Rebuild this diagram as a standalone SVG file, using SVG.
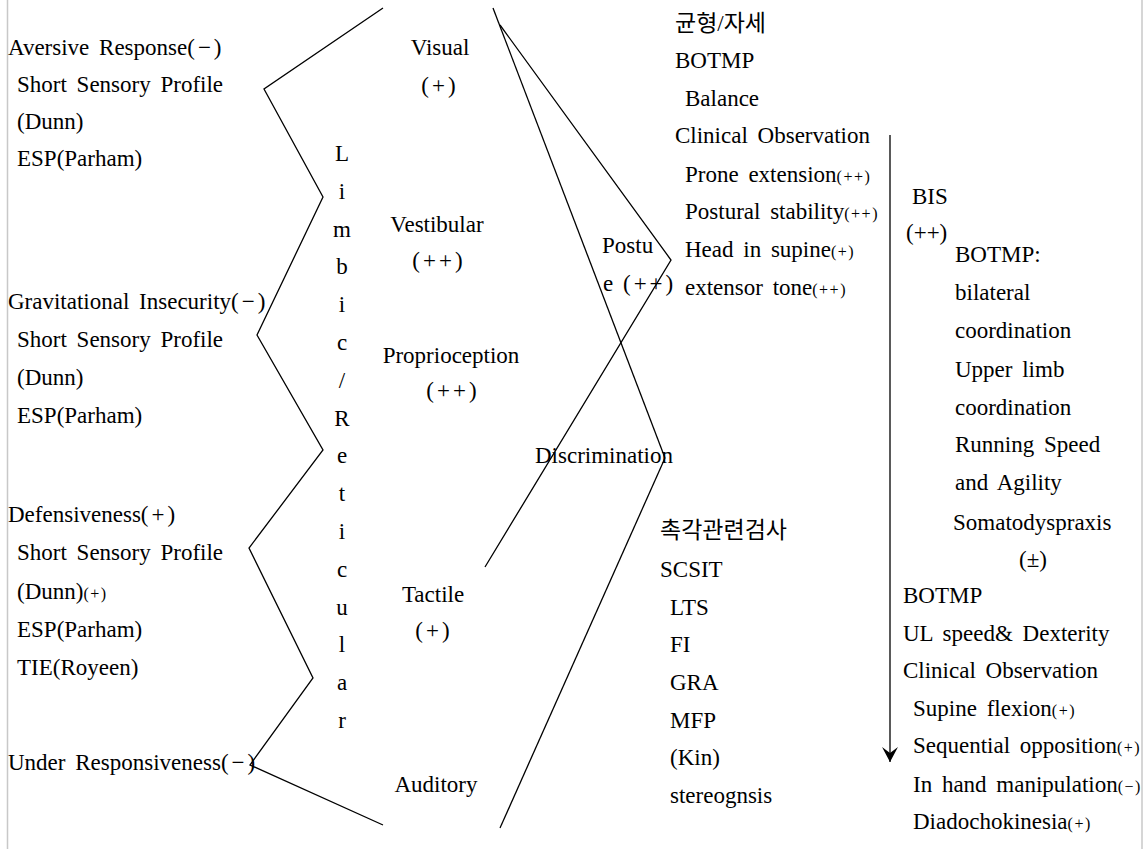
<svg xmlns="http://www.w3.org/2000/svg" width="1145" height="849" viewBox="0 0 1145 849" font-family="Liberation Serif, Noto Sans CJK KR, serif">
<style>
text{font-size:23px;fill:#000;word-spacing:4px}
.m{text-anchor:middle}
.s{font-size:16px;letter-spacing:1.5px}
.w{letter-spacing:3px}
.p{letter-spacing:3px}
.ln{fill:none;stroke:#000;stroke-width:1.3}
.frame{stroke:#c8c8c8;stroke-width:1.5}
</style>
<defs>
<marker id="ah" viewBox="0 0 16 16" refX="15" refY="8" markerWidth="16" markerHeight="16" markerUnits="userSpaceOnUse" orient="auto">
<path d="M0,0 L6,8 L0,16 L15,8 Z" fill="#000"/>
</marker>
</defs>
<rect width="1145" height="849" fill="#fff"/>
<g id="frame">
<line class="frame" x1="7.5" y1="0" x2="7.5" y2="849"/>
<line class="frame" x1="1142" y1="0" x2="1142" y2="849"/>
</g>
<g id="connectors">
<polyline class="ln" points="383,8 264,89 323,197 257,335 323,450 249,548 313,678 250,765 383,825"/>
<line class="ln" x1="493" y1="8" x2="665" y2="458"/>
<polyline class="ln" points="500,25 671,260 485,567"/>
<line class="ln" x1="665" y1="458" x2="500" y2="828"/>
<line class="ln" x1="890" y1="135" x2="890" y2="762" marker-end="url(#ah)"/>
</g>
<g id="aversive">
<text x="8" y="55">Aversive Response<tspan class="p">(−)</tspan></text>
<text x="17" y="92">Short Sensory Profile</text>
<text x="17" y="129">(Dunn)</text>
<text x="17" y="166">ESP(Parham)</text>
</g>
<g id="gravitational">
<text x="8" y="309">Gravitational Insecurity<tspan class="p">(−)</tspan></text>
<text x="17" y="347">Short Sensory Profile</text>
<text x="17" y="385">(Dunn)</text>
<text x="17" y="423">ESP(Parham)</text>
</g>
<g id="defensiveness">
<text x="8" y="522">Defensiveness<tspan class="p">(+)</tspan></text>
<text x="17" y="560">Short Sensory Profile</text>
<text x="17" y="599">(Dunn)<tspan class="s">(+)</tspan></text>
<text x="17" y="637">ESP(Parham)</text>
<text x="17" y="675">TIE(Royeen)</text>
</g>
<g id="under">
<text x="8" y="770">Under Responsiveness<tspan class="p">(−)</tspan></text>
</g>
<g id="limbic">
<text class="m" x="342" y="161">L</text>
<text class="m" x="342" y="199">i</text>
<text class="m" x="342" y="237">m</text>
<text class="m" x="342" y="274">b</text>
<text class="m" x="342" y="312">i</text>
<text class="m" x="342" y="350">c</text>
<text class="m" x="342" y="388">/</text>
<text class="m" x="342" y="426">R</text>
<text class="m" x="342" y="463">e</text>
<text class="m" x="342" y="501">t</text>
<text class="m" x="342" y="539">i</text>
<text class="m" x="342" y="577">c</text>
<text class="m" x="342" y="615">u</text>
<text class="m" x="342" y="652">l</text>
<text class="m" x="342" y="690">a</text>
<text class="m" x="342" y="728">r</text>
</g>
<g id="visual">
<text class="m" x="440" y="55">Visual</text>
<text class="m w" x="440" y="93">(+)</text>
</g>
<g id="vestibular">
<text class="m" x="437" y="232">Vestibular</text>
<text class="m w" x="439" y="268">(++)</text>
</g>
<g id="proprioception">
<text class="m" x="451" y="363">Proprioception</text>
<text class="m w" x="453" y="398">(++)</text>
</g>
<g id="tactile">
<text class="m" x="433" y="602">Tactile</text>
<text class="m w" x="434" y="638">(+)</text>
</g>
<g id="auditory">
<text class="m" x="436" y="792">Auditory</text>
</g>
<g id="posture">
<text x="602" y="253">Postu</text>
<text x="603" y="291">e <tspan class="w">(++)</tspan></text>
</g>
<g id="discrimination">
<text x="535" y="463">Discrimination</text>
</g>
<g id="balance">
<text x="675" y="31">균형/자세</text>
<text x="675" y="68">BOTMP</text>
<text x="685" y="106">Balance</text>
<text x="675" y="143">Clinical Observation</text>
<text x="685" y="182">Prone extension<tspan class="s">(++)</tspan></text>
<text x="685" y="219">Postural stability<tspan class="s">(++)</tspan></text>
<text x="685" y="257">Head in supine<tspan class="s">(+)</tspan></text>
<text x="685" y="295">extensor tone<tspan class="s">(++)</tspan></text>
</g>
<g id="touch">
<text x="660" y="538">촉각관련검사</text>
<text x="660" y="577">SCSIT</text>
<text x="670" y="615">LTS</text>
<text x="670" y="652">FI</text>
<text x="670" y="690">GRA</text>
<text x="670" y="728">MFP</text>
<text x="670" y="765">(Kin)</text>
<text x="670" y="803">stereognsis</text>
</g>
<g id="bis">
<text x="912" y="204">BIS</text>
<text x="906" y="240">(++)</text>
<text x="955" y="262">BOTMP:</text>
<text x="955" y="300">bilateral</text>
<text x="955" y="338">coordination</text>
<text x="955" y="377">Upper limb</text>
<text x="955" y="415">coordination</text>
<text x="955" y="452">Running Speed</text>
<text x="955" y="490">and Agility</text>
<text x="953" y="530">Somatodyspraxis</text>
<text class="m" x="1033" y="567">(±)</text>
</g>
<g id="somatodyspraxis-tests">
<text x="903" y="603">BOTMP</text>
<text x="903" y="641">UL speed&amp; Dexterity</text>
<text x="903" y="678">Clinical Observation</text>
<text x="913" y="716">Supine flexion<tspan class="s">(+)</tspan></text>
<text x="913" y="753">Sequential opposition<tspan class="s">(+)</tspan></text>
<text x="913" y="792">In hand manipulation<tspan class="s">(−)</tspan></text>
<text x="913" y="829">Diadochokinesia<tspan class="s">(+)</tspan></text>
</g>
</svg>
